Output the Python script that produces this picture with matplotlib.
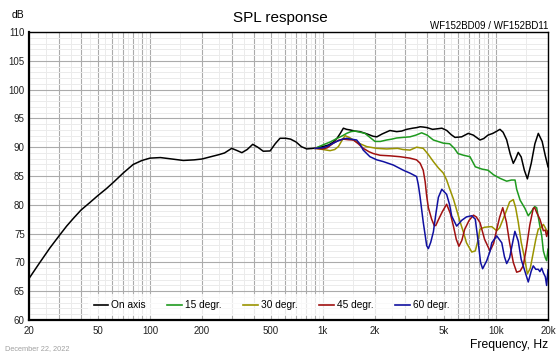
import numpy as np
import matplotlib
matplotlib.use("Agg")
import matplotlib.pyplot as plt
from matplotlib.ticker import FixedLocator, FuncFormatter, MultipleLocator

plt.rcParams['font.family'] = ['Liberation Sans', 'DejaVu Sans']

# ---------------- data ----------------
f_on = [20, 23, 26.4, 30, 33, 36, 40, 45, 50, 56, 62, 70, 80, 90, 100, 115, 130, 156, 180, 200,
        225, 250, 270, 297, 320, 340, 365, 393, 420, 452, 495, 530, 565, 610, 650, 700, 750, 806,
        880, 1000, 1080, 1150, 1210, 1260, 1313, 1370, 1434, 1530, 1640, 1800, 1950, 2050, 2200,
        2440, 2670, 2850, 3050, 3300, 3480, 3650, 3800, 4000, 4300, 4600, 4870, 5200, 5500, 5800,
        6340, 6920, 7400, 8090, 8500, 9000, 9600, 10000, 10550, 11000, 11530, 12100, 12600, 13000,
        13460, 14000, 14600, 15200, 16000, 16800, 17580, 18500, 19300, 20000]
db_on = [67.2, 69.9, 72.5, 74.7, 76.3, 77.6, 79.1, 80.4, 81.6, 82.8, 84.0, 85.5, 87.0, 87.7, 88.1,
         88.2, 88.0, 87.7, 87.8, 87.95, 88.35, 88.7, 89.0, 89.8, 89.4, 89.05, 89.6, 90.5, 90.0,
         89.3, 89.35, 90.6, 91.55, 91.55, 91.4, 90.9, 90.1, 89.7, 89.8, 90.1, 90.4, 90.9, 91.6,
         92.4, 93.3, 93.1, 93.0, 92.8, 92.7, 92.3, 91.9, 91.8, 92.3, 92.9, 92.7, 92.8, 93.1, 93.3,
         93.4, 93.55, 93.5, 93.4, 93.1, 93.2, 93.3, 92.9, 92.2, 91.7, 91.8, 92.4, 92.1, 91.25, 91.5,
         92.1, 92.4, 92.7, 93.1, 92.6, 91.3, 88.8, 87.2, 88.0, 89.1, 88.3, 86.0, 84.5, 87.2, 90.6,
         92.4, 91.0, 88.5, 86.6]

f_15 = [900, 1000, 1100, 1202, 1300, 1371, 1450, 1530, 1640, 1750, 1870, 2000, 2150, 2334, 2500,
        2670, 2900, 3185, 3450, 3720, 4000, 4350, 4966, 5400, 5750, 6030, 6500, 7080, 7600, 8300,
        9000, 9700, 10550, 11540, 12300, 12900, 13180, 13800, 14700, 15380, 16000, 16750, 17200,
        17900, 18400, 18800, 19300, 19640, 20000]
db_15 = [89.8, 90.4, 90.9, 91.5, 92.0, 92.4, 92.7, 92.8, 92.6, 92.4, 91.7, 91.0, 91.0, 91.25, 91.4,
         91.6, 91.7, 91.8, 92.1, 92.5, 92.1, 91.25, 90.7, 90.6, 89.8, 88.9, 88.6, 88.35, 86.6, 86.2,
         86.0, 85.2, 84.6, 84.1, 84.3, 84.3, 82.7, 80.8, 79.4, 78.1, 78.8, 79.7, 79.5, 76.5, 74.6,
         72.0, 70.8, 70.3, 72.3]

f_30 = [900, 1000, 1100, 1170, 1228, 1290, 1342, 1420, 1500, 1640, 1792, 2045, 2334, 2700, 2900,
        3185, 3480, 3800, 4050, 4350, 4650, 4966, 5190, 5400, 5680, 6230, 6480, 6760, 7250, 7600,
        7900, 8090, 8600, 9240, 9460, 10110, 10500, 11000, 11500, 12000, 12600, 13000, 13460,
        14000, 14700, 15200, 15800, 16440, 17000, 17580, 18200, 18800, 19300, 20000]
db_30 = [89.8, 89.6, 89.4, 89.6, 90.1, 91.2, 92.0, 91.7, 91.25, 90.6, 90.1, 89.8, 89.7, 89.8, 89.6,
         89.5, 90.0, 89.8, 88.8, 87.5, 86.4, 85.5, 84.3, 82.8, 81.0, 76.9, 75.3, 73.4, 71.8, 72.0,
         74.0, 75.8, 76.1, 76.2, 76.2, 75.5, 76.0, 77.5, 79.0, 80.5, 80.9, 79.5, 77.0, 73.5, 70.5,
         68.0, 69.0, 71.7, 74.0, 75.8, 76.0, 76.6, 76.0, 75.0]

f_45 = [900, 1000, 1060, 1148, 1230, 1313, 1400, 1500, 1600, 1710, 1850, 1954, 2140, 2444, 2787,
        3185, 3480, 3650, 3800, 3900, 3980, 4070, 4250, 4400, 4490, 4650, 4900, 5190, 5450, 5680,
        5900, 6110, 6350, 6600, 7000, 7410, 7700, 8090, 8600, 9240, 9700, 10110, 10500, 10950,
        11500, 12000, 12600, 13180, 13800, 14380, 15000, 15700, 16440, 16750, 17300, 17960, 18800,
        19300, 19640, 20000]
db_45 = [89.8, 89.7, 89.9, 90.7, 91.2, 91.4, 91.3, 91.25, 90.6, 89.8, 89.2, 88.9, 88.6, 88.5, 88.35,
         88.1, 87.8, 87.2, 86.0, 84.0, 81.5, 79.5, 77.5, 76.4, 76.4, 77.4, 78.8, 80.1, 78.5, 76.3,
         74.0, 72.8, 73.8, 75.75, 77.3, 78.2, 77.9, 76.9, 74.0, 72.0, 73.3, 75.75, 77.8, 79.5, 77.0,
         73.4, 70.0, 68.3, 68.5, 69.4, 72.5, 76.5, 79.4, 79.5, 78.5, 77.5, 75.5, 75.6, 74.5, 75.5]

f_60 = [900, 1000, 1052, 1202, 1300, 1371, 1450, 1567, 1640, 1710, 1870, 2050, 2233, 2553, 2917,
        3185, 3480, 3560, 3640, 3800, 3980, 4070, 4200, 4350, 4500, 4650, 4866, 5190, 5400, 5550,
        5930, 6340, 6760, 7250, 7600, 7910, 8150, 8380, 8850, 9240, 9460, 10110, 10810, 11200,
        11540, 12000, 12500, 12870, 13460, 14000, 14380, 15380, 16000, 16440, 17000, 17580, 17960,
        18400, 18800, 19300, 19640, 20000]
db_60 = [89.8, 89.9, 90.1, 91.0, 91.4, 91.55, 91.4, 91.25, 90.5, 89.5, 88.35, 87.8, 87.5, 86.9, 86.0,
         85.5, 84.9, 83.5, 81.5, 77.0, 72.9, 72.4, 73.5, 75.3, 78.5, 81.3, 82.7, 81.8, 80.0, 78.05,
         76.3, 77.3, 77.9, 78.1, 77.5, 73.4, 70.0, 68.9, 70.3, 71.9, 73.4, 74.6, 73.4, 71.0, 69.8,
         70.8, 73.5, 75.4, 73.7, 70.5, 69.4, 66.6, 68.5, 69.4, 68.8, 68.8, 68.4, 69.0, 68.2, 67.5,
         66.0, 68.7]

series_labels = ["On axis", "15 degr.", "30 degr.", "45 degr.", "60 degr."]
series_colors = ["#000000", "#1f9a1f", "#9a9400", "#a01010", "#1010a0"]

x_tick_values = [20, 50, 100, 200, 500, 1000, 2000, 5000, 10000, 20000]
x_tick_labels = ["20", "50", "100", "200", "500", "1k", "2k", "5k", "10k", "20k"]

# ---------------- figure ----------------
fig = plt.figure(figsize=(5.6, 3.56), dpi=100)
ax = fig.add_axes([29/560, 1-320/356, (548-29)/560, (320-32)/356])

series = [(f_on, db_on), (f_15, db_15), (f_30, db_30), (f_45, db_45), (f_60, db_60)]
for (fx, dy), lab, col in zip(series, series_labels, series_colors):
    ax.plot(fx, dy, color=col, lw=1.1, label=lab, zorder=3, solid_joinstyle='round')

ax.set_xscale('log')
ax.set_xlim(20, 20000)
ax.set_ylim(60, 110)

# grid positions
major_x = []
minor_x = []
for dec in [10, 100, 1000, 10000]:
    for m in range(1, 10):
        v = m * dec
        if 20 <= v <= 20000:
            major_x.append(v)
        h = (m + 0.5) * dec
        if 20 < h < 20000:
            minor_x.append(h)

lab_map = dict(zip(x_tick_values, x_tick_labels))
ax.xaxis.set_major_locator(FixedLocator(major_x))
ax.xaxis.set_minor_locator(FixedLocator(minor_x))
ax.xaxis.set_major_formatter(FuncFormatter(lambda v, p: lab_map.get(int(round(v)), "")))
ax.xaxis.set_minor_formatter(FuncFormatter(lambda v, p: ""))
ax.yaxis.set_major_locator(MultipleLocator(5))
ax.yaxis.set_minor_locator(MultipleLocator(1))

ax.grid(which='major', color='#ababab', lw=0.8, zorder=0)
ax.grid(which='minor', color='#ebebeb', lw=0.7, zorder=0)
ax.set_axisbelow(True)

ax.tick_params(which='both', length=0, labelsize=7, colors='#222222')
ax.tick_params(axis='y', pad=3)
ax.tick_params(axis='x', pad=4)

for s in ['top', 'right']:
    ax.spines[s].set_linewidth(1.0)
for s in ['left', 'bottom']:
    ax.spines[s].set_linewidth(1.6)
for s in ax.spines.values():
    s.set_color('black')
    s.set_zorder(5)

leg = ax.legend(loc='lower left', bbox_to_anchor=(0.103, -0.005), ncol=5, fontsize=7.3,
                frameon=True, fancybox=False, framealpha=0.75, edgecolor='none',
                handlelength=1.45, handletextpad=0.3, columnspacing=2.12, borderpad=0.6)
for line in leg.get_lines():
    line.set_linewidth(1.2)
leg.set_zorder(4)

fig.text(0.5, 1-18/356, "SPL response", ha='center', va='center', fontsize=11)
fig.text(12/560, 1-15/356, "dB", ha='left', va='center', fontsize=7.5)
fig.text(548/560, 1-26/356, "WF152BD09 / WF152BD11", ha='right', va='center', fontsize=7)
fig.text(548/560, 1-345/356, "Frequency, Hz", ha='right', va='center', fontsize=8.7)
fig.text(5/560, 1-349/356, "December 22, 2022", ha='left', va='center', fontsize=5.3, color='#a0a0a0')

fig.savefig("out.png", dpi=100)
